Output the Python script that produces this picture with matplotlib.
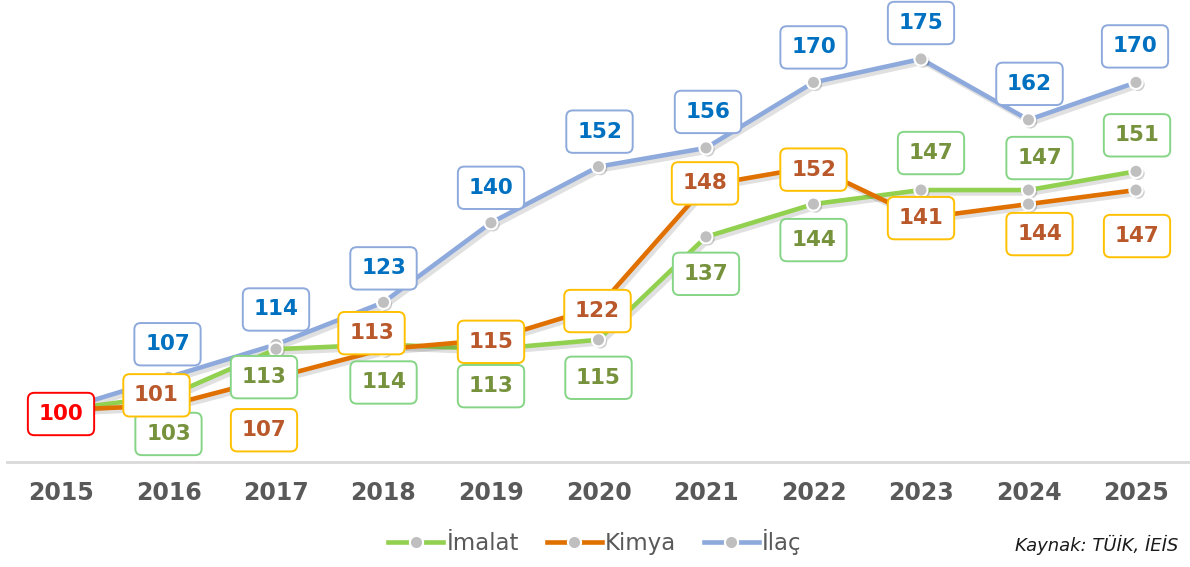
import matplotlib.pyplot as plt
import matplotlib.patheffects as pe
from matplotlib.lines import Line2D
from matplotlib.patches import BoxStyle

years = [2015, 2016, 2017, 2018, 2019, 2020, 2021, 2022, 2023, 2024, 2025]
imalat = [100, 103, 113, 114, 113, 115, 137, 144, 147, 147, 151]
kimya = [100, 101, 107, 113, 115, 122, 148, 152, 141, 144, 147]
ilac = [100, 107, 114, 123, 140, 152, 156, 170, 175, 162, 170]

# where each value label sits, in pixels from its point (dx, dy)
imalat_pos = [None, (0, -38), (-12, -28), (0, -38), (0, -37), (0, -38),
              (0, -37), (0, -36), (10, 37), (11, 32), (1, 36)]
kimya_pos = [None, (-12, 10), (-12, -53), (-12, 16), (0, -2), (-1, -4),
             (-1, 2), (0, -3), (0, 0), (11, -30), (1, -46)]
ilac_pos = [None, (-1, 33), (0, 35), (0, 34), (0, 35), (1, 35),
            (2, 36), (0, 35), (0, 36), (1, 36), (-1, 36)]

series = [
    ("İlaç", ilac, ilac_pos, "#8EA9DB", "#0070C0", "#8EA9DB"),
    ("İmalat", imalat, imalat_pos, "#92D050", "#76923C", "#86D586"),
    ("Kimya", kimya, kimya_pos, "#E07000", "#B9582A", "#FFC000"),
]

MARK = dict(marker="o", ms=9.5, mfc="#BFBFBF", mec="white", mew=1.5)


def label_box(x0, y0, width, height, mutation_size):
    # rounded box around a value label
    px, py = 0.5 * mutation_size, 0.52 * mutation_size
    return BoxStyle.Round(pad=0, rounding_size=0.3)(
        x0 - px, y0 - py, width + 2 * px, height + 2 * py, mutation_size)


fig = plt.figure(figsize=(11.9, 5.67), dpi=100)
ax = fig.add_axes([0, 105 / 567, 1, 462 / 567])

line_fx = [pe.SimpleLineShadow(offset=(2, -2.5), shadow_color="k", alpha=0.12),
           pe.Normal()]
mark_fx = [pe.SimplePatchShadow(offset=(1.5, -1.5), shadow_rgbFace="k",
                                alpha=0.18),
           pe.Normal()]

handles = {}
for z, (name, vals, pos, lc, tc, ec) in enumerate(series):
    ax.plot(years, vals, color=lc, lw=3.3, zorder=2 + z,
            solid_capstyle="round", path_effects=line_fx)
    ax.plot(years, vals, ls="none", zorder=2.5 + z, path_effects=mark_fx,
            **MARK)
    handles[name] = Line2D([], [], color=lc, lw=3.3, **MARK)
    for x, v, p in zip(years, vals, pos):
        if p is None:
            continue
        ax.annotate(str(v), (x, v), xytext=p, textcoords="offset pixels",
                    ha="center", va="center", fontsize=15.5,
                    fontweight="bold", color=tc, zorder=10, clip_on=False,
                    bbox=dict(boxstyle=label_box, fc="white", ec=ec, lw=1.4))

# common starting value of the index
ax.annotate(str(ilac[0]), (years[0], ilac[0]), xytext=(0, -4),
            textcoords="offset pixels", ha="center", va="center",
            fontsize=15.5, fontweight="bold", color="#FF0000", zorder=11,
            bbox=dict(boxstyle=label_box, fc="white", ec="#FF0000", lw=1.4))

ax.set_xlim(2015 - 61 / 107.5, 2015 + (1190 - 61) / 107.5)
ax.set_ylim(100 - 52 / 4.68, 100 + 410 / 4.68)
ax.axhline(ax.get_ylim()[0], xmin=7 / 1190, xmax=1, color="#D9D9D9",
           lw=2, zorder=1, clip_on=False)

for s in ax.spines.values():
    s.set_visible(False)
ax.set_yticks([])
ax.set_xticks(years)
ax.set_xticklabels([str(y) for y in years], fontsize=17, fontweight="bold",
                   color="#595959")
ax.tick_params(axis="x", length=0, pad=14)

fig.legend([handles["İmalat"], handles["Kimya"], handles["İlaç"]],
           ["İmalat", "Kimya", "İlaç"], loc="center",
           bbox_to_anchor=(595 / 1190, 25 / 567), ncol=3, frameon=False,
           fontsize=16.5, handlelength=2.4, handletextpad=0.15,
           columnspacing=1.2, labelcolor="#595959")

fig.text(1178 / 1190, 22 / 567, "Kaynak: TÜİK, İEİS", ha="right",
         va="center", fontsize=13, style="italic", color="#1A1A1A")

fig.savefig("out.png", dpi=100)
